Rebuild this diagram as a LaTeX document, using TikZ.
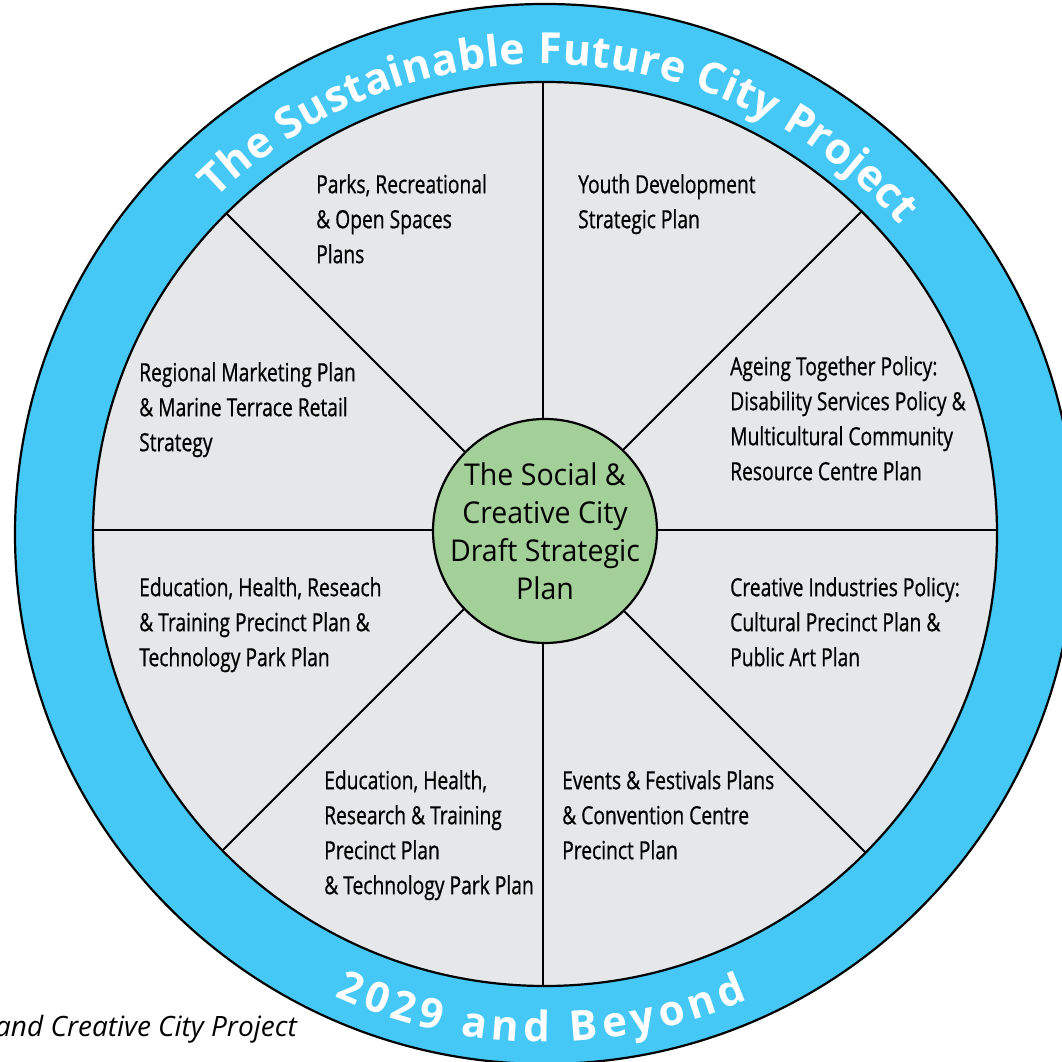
\documentclass[tikz,border=0pt]{standalone}
\usepackage{fontspec}
\setmainfont{Open Sans}
\newfontfamily\lblfont[FakeStretch=0.77,FakeBold=0.7]{Open Sans}
\newfontfamily\hubfont[FakeStretch=0.95]{Open Sans}
\newfontfamily\ringfont{Open Sans}
\usetikzlibrary{decorations.text}
\definecolor{ringblue}{HTML}{45C8F5}
\definecolor{segfill}{HTML}{E6E7E8}
\definecolor{hubgreen}{HTML}{A3CF98}
\begin{document}
\begin{tikzpicture}[x=1pt,y=1pt,
  lbl/.style={anchor=north west, inner sep=0pt, align=left, font=\lblfont\fontsize{25}{35}\selectfont},
  spoke/.style={draw=black, line width=2pt},
  rimline/.style={draw=black, line width=2.2pt},
  ringtext/.style={decorate, decoration={text along path, text align=fit to path, text color=white, text={#1}}}]
\useasboundingbox (0,0) rectangle (1062,1062);
\coordinate (C) at (545,528);
\coordinate (S) at (543,532);
\foreach \a in {0,45,...,315} \path (S) ++(\a:470) coordinate (rim\a);
% outer ring
\fill[ringblue] (C) circle[radius=530];
\draw[rimline] (C) circle[radius=530];
% inner disc
\fill[segfill] (C) circle[radius=452];
\begin{scope}
  \clip (C) circle[radius=452];
  \foreach \a in {0,45,...,315} \draw[spoke] (S) -- (rim\a);
\end{scope}
\draw[rimline] (C) circle[radius=452];
% hub
\node[circle, draw=black, line width=2.2pt, fill=hubgreen, minimum size=224pt, inner sep=0pt] (hub) at (545,531) {};
\node[inner sep=0pt, align=center, font=\hubfont\fontsize{30}{38}\selectfont] (hubtext) at (hub.center)
      {The Social \&\\Creative City\\Draft Strategic\\Plan};
% ring texts
\path[ringtext={|\ringfont\bfseries\fontsize{43}{43}\selectfont|The Sustainable Future City Project}]
  (C) ++(134.5:470) arc[start angle=134.5, end angle=41, radius=470];
\path[ringtext={|\ringfont\bfseries\fontsize{42}{42}\selectfont|2029 and Beyond}]
  (C) ++(-114.5:508) arc[start angle=-114.5, end angle=-66.5, radius=508];
% labels
\node[lbl] (parks) at (316,888) {Parks, Recreational\\\& Open Spaces\\Plans};
\node[lbl] (youth) at (578,888) {Youth Development\\Strategic Plan};
\node[lbl] (regional) at (139,700) {Regional Marketing Plan\\\& Marine Terrace Retail\\Strategy};
\node[lbl] (ageing) at (730,706) {Ageing Together Policy:\\Disability Services Policy \&\\Multicultural Community\\Resource Centre Plan};
\node[lbl] (eduL) at (139,485) {Education, Health, Reseach\\\& Training Precinct Plan \&\\Technology Park Plan};
\node[lbl] (creative) at (730,485) {Creative Industries Policy:\\Cultural Precinct Plan \&\\Public Art Plan};
\node[lbl] (eduB) at (324,292) {Education, Health,\\Research \& Training\\Precinct Plan\\\& Technology Park Plan};
\node[lbl] (events) at (562,292) {Events \& Festivals Plans\\\& Convention Centre\\Precinct Plan};
% caption
\node[anchor=base east, inner sep=0pt, font=\itshape\fontsize{28}{28}\selectfont] (caption) at (297,25) {and Creative City Project};
\end{tikzpicture}
\end{document}
